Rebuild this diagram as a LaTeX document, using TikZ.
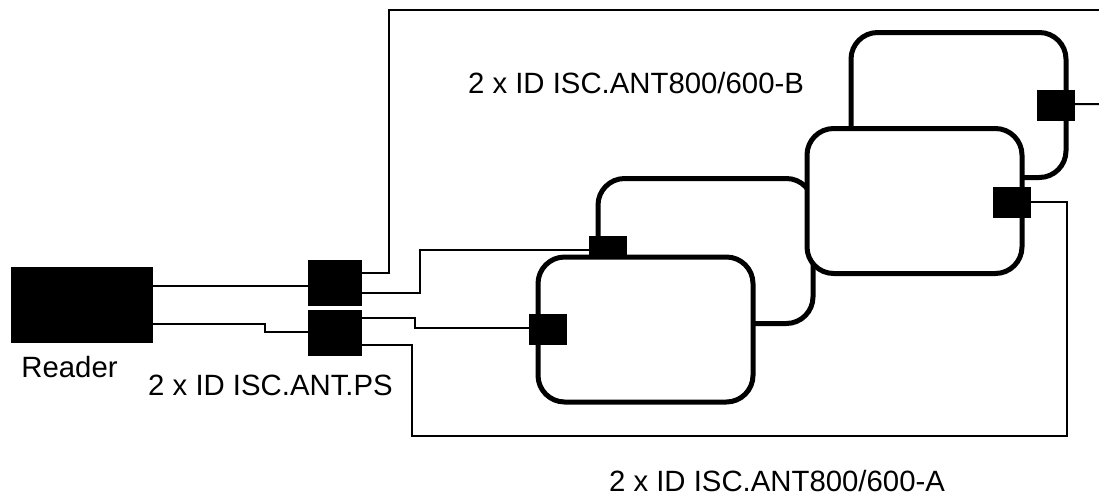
\documentclass[tikz,border=0pt]{standalone}
\usepackage{fontspec}
\setmainfont{Liberation Sans}
\begin{document}
\begin{tikzpicture}[
    x=0.75pt, y=-0.75pt,
    antenna/.style={rectangle, draw, fill=white, line width=3.75pt, rounded corners=20pt, minimum width=161.25pt, minimum height=108.75pt, inner sep=0pt, outer sep=0pt},
    port/.style={rectangle, fill=black, minimum width=28.5pt, minimum height=23.25pt, inner sep=0pt, outer sep=0pt},
    splitter/.style={rectangle, fill=black, minimum width=40.5pt, minimum height=34.5pt, inner sep=0pt, outer sep=0pt},
    wire/.style={draw, line width=1.5pt, line join=miter},
    caption/.style={font=\fontsize{22}{24}\selectfont, inner sep=0pt}
]
\useasboundingbox (0,0) rectangle (1099,496);

\node[rectangle, fill=black, minimum width=106.5pt, minimum height=57pt, inner sep=0pt, outer sep=0pt] (reader) at (82,305) {};
\node[splitter] (psa) at (335,283) {};
\node[splitter] (psb) at (335,333) {};

\node[antenna] (rearA) at (705.5,251) {};
\node[port] (portAtop) at (608,251.5) {};
\node[antenna] (frontA) at (645.5,329.5) {};
\node[port] (portAleft) at (548,329) {};
\node[antenna] (rearB) at (958.5,105) {};
\node[port] (portBrear) at (1056,105.5) {};
\node[antenna] (frontB) at (914.5,201) {};
\node[port] (portBfront) at (1012,202) {};

\coordinate (topend) at (1099,10);
\coordinate (rightend) at (1099,104);

\draw[wire] ([yshift=14.25pt]reader.east) -- ([yshift=-2.25pt]psa.west);
\draw[wire] ([yshift=-14.25pt]reader.east) -- ++(84pt,0) |- ([yshift=0.75pt]psb.west);
\draw[wire] ([yshift=7.5pt]psa.east) -- ++(20.25pt,0) |- (topend);
\draw[wire] ([yshift=-7.5pt]psa.east) -- ++(43.5pt,0) |- ([yshift=1.1pt]portAtop.west);
\draw[wire] ([yshift=11.25pt]psb.east) -- ++(39.75pt,0) |- ([yshift=0.75pt]portAleft.west);
\draw[wire] ([yshift=-9pt]psb.east) -- ++(37.5pt,0) -- ++(0,-68.25pt) -- ++(491.25pt,0) |- (portBfront.east);
\draw[wire] ([yshift=1.1pt]portBrear.east) -- (rightend);

\node[caption] (readerlabel) at (69.5,367) {Reader};
\node[caption] (pslabel) at (270.5,385) {2 x ID ISC.ANT.PS};
\node[caption] (blabel) at (636,83) {2 x ID ISC.ANT800/600-B};
\node[caption] (alabel) at (777,481) {2 x ID ISC.ANT800/600-A};
\end{tikzpicture}
\end{document}
